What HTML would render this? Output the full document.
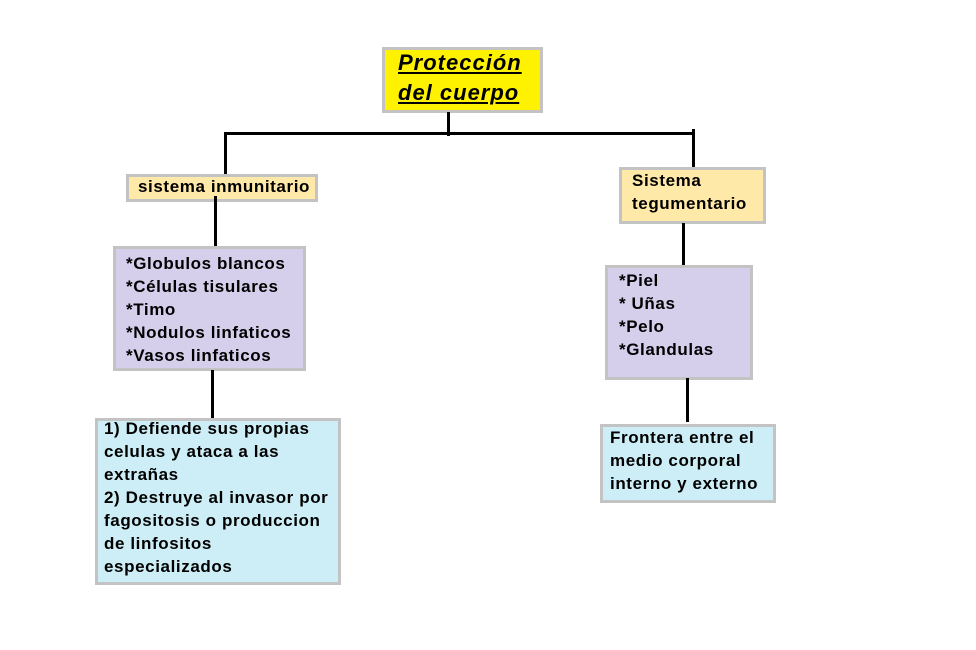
<!DOCTYPE html>
<html><head><meta charset="utf-8"><style>
body{margin:0;width:976px;height:650px;background:#fff;position:relative;overflow:hidden;font-family:"Liberation Sans",Arial,sans-serif;font-weight:bold;color:#000}
.b{position:absolute;box-sizing:border-box;border:3px solid #c3c3c3}
.l{position:absolute;background:#000}
.t{position:absolute;font-size:17px;line-height:23px;white-space:nowrap;letter-spacing:0.6px}
</style></head><body>
<div class="b" style="left:382px;top:47px;width:161px;height:66px;background:#fff200"></div>
<div class="t" style="left:398px;top:48px;font-size:22px;line-height:30px;font-style:italic;text-decoration:underline;letter-spacing:1px">Protección<br>del cuerpo</div>

<div class="l" style="left:447px;top:112px;width:3px;height:24px"></div>
<div class="l" style="left:224px;top:132px;width:471px;height:3px"></div>
<div class="l" style="left:224px;top:132px;width:3px;height:46px"></div>
<div class="l" style="left:692px;top:129px;width:3px;height:50px"></div>

<div class="b" style="left:126px;top:174px;width:192px;height:28px;background:#ffe9a8"></div>
<div class="t" style="left:138px;top:175px">sistema inmunitario</div>
<div class="l" style="left:214px;top:196px;width:3px;height:54px"></div>

<div class="b" style="left:113px;top:246px;width:193px;height:125px;background:#d5cfec"></div>
<div class="t" style="left:126px;top:252px">*Globulos blancos<br>*Células tisulares<br>*Timo<br>*Nodulos linfaticos<br>*Vasos linfaticos</div>
<div class="l" style="left:211px;top:370px;width:3px;height:50px"></div>

<div class="b" style="left:95px;top:418px;width:246px;height:167px;background:#cdeef6"></div>
<div class="t" style="left:104px;top:417px">1) Defiende sus propias<br>celulas y ataca a las<br>extrañas<br>2) Destruye al invasor por<br>fagositosis o produccion<br>de linfositos<br>especializados</div>

<div class="b" style="left:619px;top:167px;width:147px;height:57px;background:#ffe9a8"></div>
<div class="t" style="left:632px;top:169px">Sistema<br>tegumentario</div>
<div class="l" style="left:682px;top:223px;width:3px;height:46px"></div>

<div class="b" style="left:605px;top:265px;width:148px;height:115px;background:#d5cfec"></div>
<div class="t" style="left:619px;top:269px">*Piel<br>* Uñas<br>*Pelo<br>*Glandulas</div>
<div class="l" style="left:686px;top:378px;width:3px;height:44px"></div>

<div class="b" style="left:600px;top:424px;width:176px;height:79px;background:#cdeef6"></div>
<div class="t" style="left:610px;top:426px">Frontera entre el<br>medio corporal<br>interno y externo</div>
</body></html>
